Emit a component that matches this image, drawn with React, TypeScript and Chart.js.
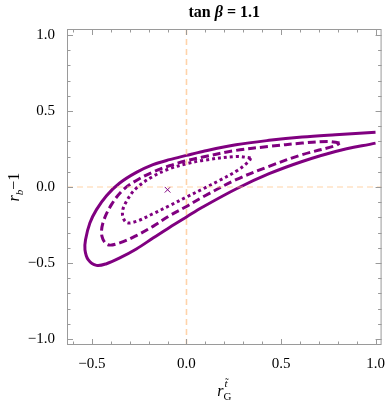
import React, { useEffect, useRef } from 'react';
import { Chart, registerables } from 'chart.js';
Chart.register(...registerables);

// ---- data ----
const titleText = ['tan ', 'β', ' = 1.1'];
const xTickValues = [-0.5, 0, 0.5, 1.0];
const yTickValues = [-1.0, -0.5, 0, 0.5, 1.0];
const xRange = [-0.632, 1.032];
const yRange = [-1.04, 1.04];

const solidX = [1.0, 0.788, 0.612, 0.437, 0.262, 0.086, 0.0, -0.09, -0.177, -0.265, -0.353, -0.423, -0.476, -0.511, -0.534, -0.537, -0.52, -0.476, -0.423, -0.353, -0.265, -0.177, -0.09, 0.0, 0.086, 0.262, 0.437, 0.612, 0.788, 1.0];
const solidY = [0.36, 0.344, 0.329, 0.307, 0.278, 0.234, 0.208, 0.18, 0.147, 0.096, 0.026, -0.057, -0.149, -0.237, -0.347, -0.413, -0.478, -0.516, -0.505, -0.467, -0.408, -0.336, -0.266, -0.197, -0.132, -0.013, 0.0875, 0.168, 0.234, 0.289];

const dashedX = [0.81, 0.75, 0.612, 0.437, 0.262, 0.086, 0.0, -0.09, -0.177, -0.265, -0.335, -0.397, -0.442, -0.447, -0.416, -0.353, -0.265, -0.177, -0.09, 0.0, 0.086, 0.262, 0.437, 0.612, 0.788, 0.81];
const dashedY = [0.29, 0.3, 0.289, 0.267, 0.241, 0.197, 0.173, 0.14, 0.099, 0.043, -0.018, -0.116, -0.237, -0.325, -0.38, -0.368, -0.32, -0.259, -0.189, -0.128, -0.066, 0.048, 0.136, 0.213, 0.272, 0.29];

const dottedX = [0.34, 0.262, 0.086, 0.0, -0.09, -0.177, -0.265, -0.318, -0.339, -0.318, -0.265, -0.177, -0.09, 0.0, 0.086, 0.174, 0.262, 0.33, 0.34];
const dottedY = [0.191, 0.201, 0.175, 0.153, 0.12, 0.07, -0.007, -0.095, -0.171, -0.233, -0.226, -0.176, -0.123, -0.066, -0.013, 0.043, 0.103, 0.168, 0.191];

const bestX = [-0.1];
const bestY = [-0.018];

const PURPLE = '#800080';
const PEACH = 'rgba(255,196,140,0.75)';
const SERIF = '"Liberation Serif", "Times New Roman", serif';

const pts = (xs: number[], ys: number[]) => xs.map((x, i) => ({ x, y: ys[i] }));

const decorPlugin = {
  id: 'decor',
  afterDraw(chart: any) {
    const { ctx, chartArea: a, scales } = chart;
    const xs = scales.x, ys = scales.y;
    ctx.save();
    // frame
    ctx.strokeStyle = '#9a9a9a';
    ctx.lineWidth = 1;
    ctx.strokeRect(a.left + 0.5, a.top + 0.5, a.right - a.left - 1, a.bottom - a.top - 1);
    // ticks
    ctx.beginPath();
    for (let k = -6; k <= 10; k++) {
      const px = Math.round(xs.getPixelForValue(k / 10)) + 0.5;
      const len = k % 5 === 0 ? 6 : 3.5;
      ctx.moveTo(px, a.bottom); ctx.lineTo(px, a.bottom - len);
      ctx.moveTo(px, a.top); ctx.lineTo(px, a.top + len);
    }
    for (let k = -10; k <= 10; k++) {
      const py = Math.round(ys.getPixelForValue(k / 10)) + 0.5;
      const len = k % 5 === 0 ? 6 : 3.5;
      ctx.moveTo(a.left, py); ctx.lineTo(a.left + len, py);
      ctx.moveTo(a.right, py); ctx.lineTo(a.right - len, py);
    }
    ctx.stroke();

    ctx.fillStyle = '#000';
    ctx.textBaseline = 'alphabetic';
    // title
    const fonts = [`bold 16px ${SERIF}`, `italic bold 16px ${SERIF}`, `bold 16px ${SERIF}`];
    let total = 0;
    const widths = titleText.map((t, i) => { ctx.font = fonts[i]; const w = ctx.measureText(t).width; total += w; return w; });
    let tx = (a.left + a.right) / 2 - total / 2;
    titleText.forEach((t, i) => { ctx.font = fonts[i]; ctx.textAlign = 'left'; ctx.fillText(t, tx, 17); tx += widths[i]; });

    // x axis title: r_G^{t~}
    const cx = (a.left + a.right) / 2;
    const by = 396;
    ctx.font = `italic 16px ${SERIF}`;
    const rw = ctx.measureText('r').width;
    ctx.font = `11px ${SERIF}`;
    const gw = ctx.measureText('G').width;
    let x0 = cx - (rw + gw) / 2;
    ctx.font = `italic 16px ${SERIF}`;
    ctx.textAlign = 'left';
    ctx.fillText('r', x0, by);
    ctx.font = `11px ${SERIF}`;
    ctx.fillText('G', x0 + rw, by + 4);
    ctx.font = `italic 11px ${SERIF}`;
    ctx.fillText('t\u0303', x0 + rw + 1, by - 9);

    // y axis title: r_b - 1 (rotated)
    ctx.translate(15, (a.top + a.bottom) / 2);
    ctx.rotate(-Math.PI / 2);
    ctx.font = `italic 16px ${SERIF}`;
    const r2 = ctx.measureText('r').width;
    ctx.font = `italic 11px ${SERIF}`;
    const bw = ctx.measureText('b').width;
    ctx.font = `16px ${SERIF}`;
    const mw = ctx.measureText('\u22121').width;
    let y0 = -(r2 + bw + mw) / 2;
    ctx.font = `italic 16px ${SERIF}`;
    ctx.fillText('r', y0, 4);
    ctx.font = `italic 11px ${SERIF}`;
    ctx.fillText('b', y0 + r2, 8);
    ctx.font = `16px ${SERIF}`;
    ctx.fillText('\u22121', y0 + r2 + bw, 4);
    ctx.restore();
  },
};

export default function App() {
  const ref = useRef<HTMLCanvasElement>(null);
  useEffect(() => {
    document.body.style.margin = '0';
    const fmt = (v: number) => v.toFixed(1).replace('-', '\u2212');
    const chart = new Chart(ref.current!, {
      type: 'scatter',
      data: {
        datasets: [
          { data: pts([0, 0], yRange), showLine: true, borderColor: PEACH, borderWidth: 1.6, borderDash: [6, 4], pointRadius: 0 } as any,
          { data: pts(xRange, [0, 0]), showLine: true, borderColor: PEACH, borderWidth: 1.2, borderDash: [6, 4], pointRadius: 0 } as any,
          { data: pts(solidX, solidY), showLine: true, borderColor: PURPLE, borderWidth: 3, pointRadius: 0, tension: 0.35 } as any,
          { data: pts(dashedX, dashedY), showLine: true, borderColor: PURPLE, borderWidth: 3, borderDash: [8, 4], pointRadius: 0, tension: 0.35 } as any,
          { data: pts(dottedX, dottedY), showLine: true, borderColor: PURPLE, borderWidth: 3, borderDash: [3, 3], pointRadius: 0, tension: 0.35 } as any,
          { data: pts(bestX, bestY), pointStyle: 'crossRot', pointRadius: 4, borderColor: PURPLE, borderWidth: 1, backgroundColor: PURPLE } as any,
        ],
      },
      options: {
        responsive: false,
        animation: false,
        layout: { padding: { top: 29, right: 4, left: 0, bottom: 0 } },
        plugins: { legend: { display: false }, tooltip: { enabled: false }, title: { display: false } },
        scales: {
          x: {
            type: 'linear', min: xRange[0], max: xRange[1],
            grid: { display: false }, border: { display: false },
            afterBuildTicks: (s: any) => { s.ticks = xTickValues.map((v) => ({ value: v })); },
            afterFit: (s: any) => { s.height = 60; },
            ticks: { color: '#000', font: { family: SERIF, size: 15 }, padding: 2, maxRotation: 0, callback: (v: any) => fmt(Number(v)) },
          },
          y: {
            type: 'linear', min: yRange[0], max: yRange[1],
            grid: { display: false }, border: { display: false },
            afterBuildTicks: (s: any) => { s.ticks = yTickValues.map((v) => ({ value: v })); },
            afterFit: (s: any) => { s.width = 67; },
            ticks: { color: '#000', font: { family: SERIF, size: 15 }, padding: 4, callback: (v: any) => fmt(Number(v)) },
          },
        },
      },
      plugins: [decorPlugin],
    });
    return () => chart.destroy();
  }, []);
  return (
    <div style={{ position: 'absolute', left: 0, top: 0, width: 387, height: 405 }}>
      <canvas ref={ref} width={387} height={405} style={{ width: 387, height: 405, display: 'block' }} />
    </div>
  );
}
